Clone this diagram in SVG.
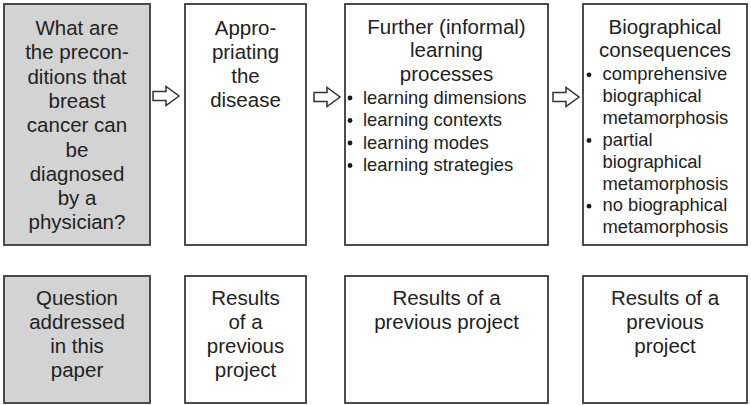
<svg xmlns="http://www.w3.org/2000/svg" width="751" height="405" viewBox="0 0 751 405">
<style>
.box{fill:#ffffff;stroke:#3a3a3a;stroke-width:1.8}
.gray{fill:#d3d3d3}
.t{font-family:"Liberation Sans",Arial,sans-serif;font-size:20.5px;fill:#222;text-anchor:middle}
.b{font-family:"Liberation Sans",Arial,sans-serif;font-size:18.4px;fill:#222}
.arrow{fill:#ffffff;stroke:#333;stroke-width:1.5;stroke-linejoin:miter}
.dot{fill:#1a1a1a}
</style>
<defs>
<path id="arr" d="M0,-4.5 L13,-4.5 L13,-9.5 L26,0 L13,9.5 L13,4.5 L0,4.5 Z"/>
</defs>
<rect width="751" height="405" fill="#ffffff"/>
<g id="connectors">
<use href="#arr" class="arrow" x="153" y="96"/>
<use href="#arr" class="arrow" x="314" y="97"/>
<use href="#arr" class="arrow" x="553" y="97"/>
</g>
<g id="n1">
<rect class="box gray" x="4" y="4" width="146" height="241"/>
<text class="t" x="77" y="35">What are</text>
<text class="t" x="77" y="59.3">the precon-</text>
<text class="t" x="77" y="83.6">ditions that</text>
<text class="t" x="77" y="107.9">breast</text>
<text class="t" x="77" y="132.2">cancer can</text>
<text class="t" x="77" y="156.5">be</text>
<text class="t" x="77" y="180.8">diagnosed</text>
<text class="t" x="77" y="205.1">by a</text>
<text class="t" x="77" y="229.4">physician?</text>
</g>
<g id="n2">
<rect class="box" x="185" y="4" width="121" height="241"/>
<text class="t" x="245.5" y="34.7">Appro-</text>
<text class="t" x="245.5" y="58.7">priating</text>
<text class="t" x="245.5" y="82.7">the</text>
<text class="t" x="245.5" y="106.7">disease</text>
</g>
<g id="n3">
<rect class="box" x="345" y="4" width="203" height="241"/>
<text class="t" x="446.5" y="33.5">Further (informal)</text>
<text class="t" x="446.5" y="57.3">learning</text>
<text class="t" x="446.5" y="81.1">processes</text>
<circle class="dot" cx="350" cy="98" r="2.4"/>
<circle class="dot" cx="350" cy="120.5" r="2.4"/>
<circle class="dot" cx="350" cy="143" r="2.4"/>
<circle class="dot" cx="350" cy="165.5" r="2.4"/>
<text class="b" x="363" y="103.5">learning dimensions</text>
<text class="b" x="363" y="126">learning contexts</text>
<text class="b" x="363" y="148.5">learning modes</text>
<text class="b" x="363" y="171">learning strategies</text>
</g>
<g id="n4">
<rect class="box" x="583" y="4" width="164" height="241"/>
<text class="t" x="665" y="33.5">Biographical</text>
<text class="t" x="665" y="57">consequences</text>
<circle class="dot" cx="589" cy="74.8" r="2.4"/>
<circle class="dot" cx="589" cy="140.5" r="2.4"/>
<circle class="dot" cx="589" cy="206.2" r="2.4"/>
<text class="b" x="602.5" y="80">comprehensive</text>
<text class="b" x="602.5" y="101.9">biographical</text>
<text class="b" x="602.5" y="123.8">metamorphosis</text>
<text class="b" x="602.5" y="145.7">partial</text>
<text class="b" x="602.5" y="167.6">biographical</text>
<text class="b" x="602.5" y="189.5">metamorphosis</text>
<text class="b" x="602.5" y="211.4">no biographical</text>
<text class="b" x="602.5" y="233.3">metamorphosis</text>
</g>
<g id="n5">
<rect class="box gray" x="4" y="276" width="146" height="127"/>
<text class="t" x="77" y="305">Question</text>
<text class="t" x="77" y="329">addressed</text>
<text class="t" x="77" y="353">in this</text>
<text class="t" x="77" y="377">paper</text>
</g>
<g id="n6">
<rect class="box" x="185" y="276" width="121" height="127"/>
<text class="t" x="245.5" y="305">Results</text>
<text class="t" x="245.5" y="329">of a</text>
<text class="t" x="245.5" y="353">previous</text>
<text class="t" x="245.5" y="377">project</text>
</g>
<g id="n7">
<rect class="box" x="345" y="276" width="203" height="127"/>
<text class="t" x="446.5" y="305">Results of a</text>
<text class="t" x="446.5" y="329">previous project</text>
</g>
<g id="n8">
<rect class="box" x="583" y="276" width="164" height="127"/>
<text class="t" x="665" y="305">Results of a</text>
<text class="t" x="665" y="329">previous</text>
<text class="t" x="665" y="353">project</text>
</g>
</svg>
